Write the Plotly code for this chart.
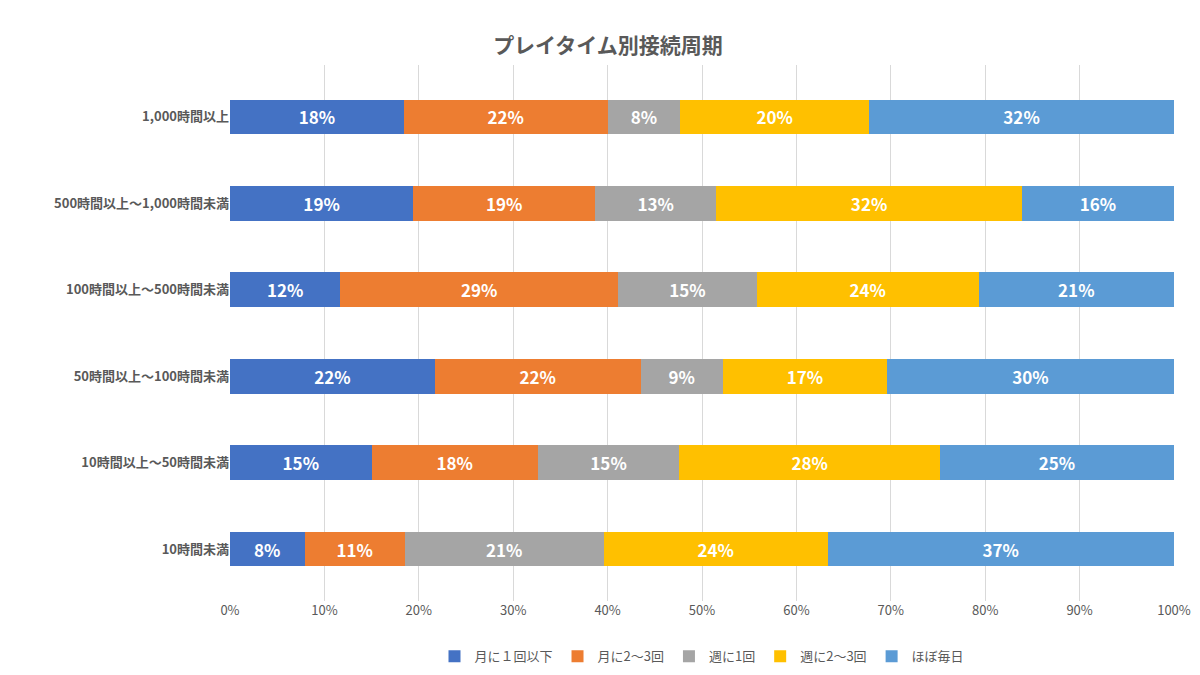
import plotly.graph_objects as go

categories = ["10時間未満", "10時間以上～50時間未満", "50時間以上～100時間未満",
              "100時間以上～500時間未満", "500時間以上～1,000時間未満", "1,000時間以上"]
series_names = ["月に１回以下", "月に2～3回", "週に1回", "週に2～3回", "ほぼ毎日"]
colors = ["#4472C4", "#ED7D31", "#A5A5A5", "#FFC000", "#5B9BD5"]
values = [
    [7.9, 15.0, 21.7, 11.7, 19.4, 18.4],
    [10.6, 17.6, 21.8, 29.4, 19.3, 21.6],
    [21.1, 15.0, 8.7, 14.7, 12.8, 7.7],
    [23.7, 27.6, 17.4, 23.5, 32.4, 20.0],
    [36.7, 24.8, 30.4, 20.7, 16.1, 32.3],
]

fig = go.Figure()
for name, col, vals in zip(series_names, colors, values):
    fig.add_trace(go.Bar(
        y=categories, x=vals, name=name, orientation="h",
        marker=dict(color=col, line=dict(width=0)),
        texttemplate="<b>%{x:.0f}%</b>", textposition="inside", insidetextanchor="middle",
        textfont=dict(color="white", size=17, family="Noto Sans CJK JP"),
        hoverinfo="skip", width=0.4,
    ))

fig.update_layout(
    barmode="stack", width=1200, height=675,
    paper_bgcolor="white", plot_bgcolor="white",
    font=dict(family="Noto Sans CJK JP", color="#595959", size=13),
    title=dict(text="<b>プレイタイム別接続周期</b>", x=0.5, y=0.955, xanchor="center",
               font=dict(size=21, color="#595959")),
    margin=dict(l=222, r=34, t=57, b=66),
    xaxis=dict(range=[0, 100], ticksuffix="%", dtick=10, showgrid=True, automargin=False,
               gridcolor="#D9D9D9", zeroline=False, tickfont=dict(size=13)),
    yaxis=dict(tickfont=dict(size=13), ticksuffix="  ", range=[-0.6, 5.6], automargin=False,
               tickprefix="<b>", ),
    legend=dict(orientation="h", x=0.5, xanchor="center", y=-0.075, yanchor="top",
                font=dict(size=13), traceorder="normal"),
    uniformtext=dict(mode="show", minsize=10),
)
fig.update_yaxes(ticktext=["<b>" + c + "</b>" for c in categories], tickvals=categories, tickprefix="")
fig.write_html("out.html")
